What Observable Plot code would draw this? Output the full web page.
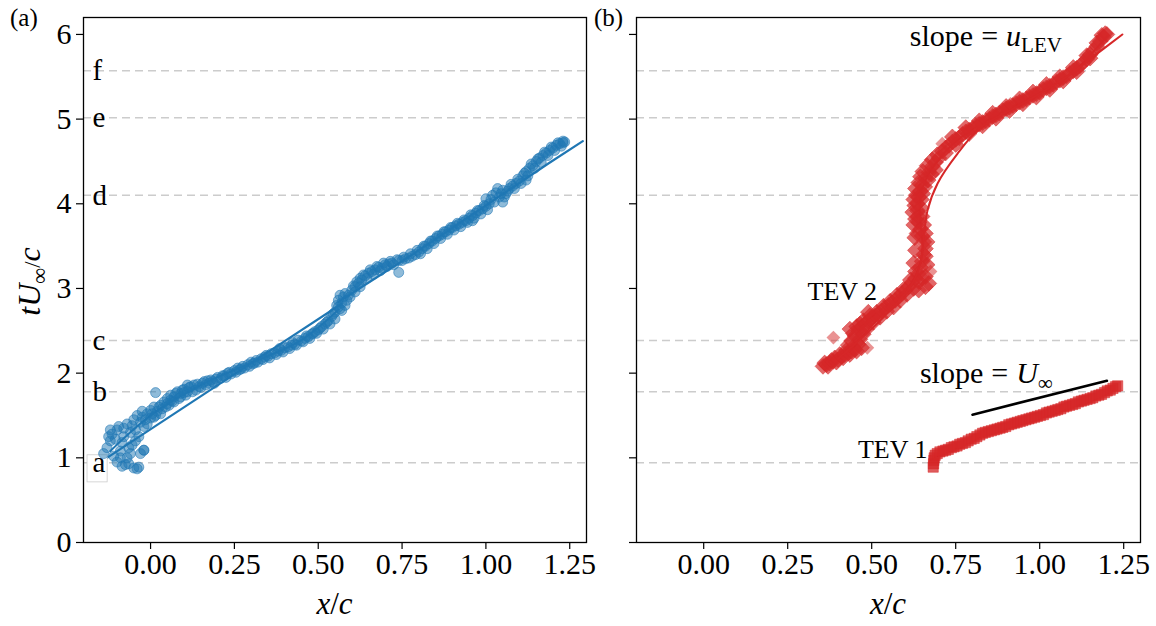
<!DOCTYPE html>
<html>
<head>
<meta charset="utf-8">
<script src="https://cdn.jsdelivr.net/npm/d3@7"></script>
<script src="https://cdn.jsdelivr.net/npm/@observablehq/plot@0.6"></script>
<style>
  html, body { margin: 0; padding: 0; background: #fff; }
  #wrap { position: relative; width: 1156px; height: 626px; font-family: "Liberation Serif", serif; }
  #wrap > .panel { position: absolute; top: 0; }
  .plab { position: absolute; top: 4px; font-size: 25px; font-family: "Liberation Serif", serif; }
</style>
</head>
<body>
<div id="wrap">
  <div class="plab" style="left:10px">(a)</div>
  <div class="plab" style="left:594px">(b)</div>
</div>
<script>
// ---------------- data ----------------
const xTicks = [0, 0.25, 0.5, 0.75, 1.0, 1.25];
const yTicks = [0, 1, 2, 3, 4, 5, 6];
const stageLabels = ["a", "b", "c", "d", "e", "f"];
const stageY = [0.943, 1.78, 2.386, 4.10, 5.015, 5.57];

// panel (a): LEV trajectory points (x/c, tU/c)
const levPts = [
  [-0.14,1.05],[-0.13,1.12],[-0.12,1.20],[-0.115,1.28],[-0.10,1.33],[-0.11,1.02],[-0.10,0.95],[-0.09,1.08],
  [-0.085,1.18],[-0.08,1.25],[-0.075,0.92],[-0.07,1.00],[-0.065,1.12],[-0.06,1.30],[-0.055,1.38],[-0.05,0.88],
  [-0.045,1.20],[-0.04,0.87],[-0.035,0.89],[-0.03,1.42],[-0.025,1.48],[-0.02,1.09],[-0.02,1.09],[-0.02,1.37],
  [-0.01,1.52],[0.0,1.47],[0.0,1.56],[0.01,1.60],[0.015,1.50],[0.015,1.77],[0.02,1.55],[0.03,1.62],[0.035,1.58],
  [0.04,1.66],[0.05,1.70],[0.055,1.62],[0.06,1.74],[0.065,1.67],[0.07,1.72],[0.08,1.78],[0.085,1.70],[0.09,1.76],
  [0.10,1.81],[0.105,1.74],[0.11,1.86],[0.12,1.84],[0.125,1.78],[0.14,1.87],[0.15,1.83],[0.16,1.90],[0.18,1.92],
  [0.19,1.88],[0.20,1.95],[0.22,1.97],[0.23,2.00],[0.25,2.03],[0.26,2.06],[0.27,2.05],[0.29,2.10],[0.30,2.13],
  [0.31,2.12],[0.33,2.17],[0.34,2.19],[0.35,2.20],[0.37,2.24],[0.38,2.26],[0.39,2.27],[0.41,2.31],[0.42,2.33],
  [0.43,2.34],[0.45,2.38],[0.46,2.41],[0.47,2.43],[0.48,2.46],[0.49,2.49],[0.50,2.51],[0.51,2.55],[0.52,2.58],
  [0.53,2.62],[0.54,2.67],[0.55,2.72],[0.555,2.80],[0.56,2.86],[0.565,2.76],[0.57,2.83],[0.575,2.90],[0.58,2.80],
  [0.59,2.92],[0.60,2.98],[0.61,3.02],[0.62,3.06],[0.625,3.12],[0.63,3.10],[0.64,3.15],[0.65,3.18],[0.66,3.20],
  [0.67,3.22],[0.68,3.25],[0.69,3.24],[0.70,3.28],[0.71,3.29],[0.72,3.30],[0.74,3.19],[0.74,3.33],[0.76,3.35],
  [0.78,3.38],[0.80,3.43],[0.81,3.47],[0.82,3.50],[0.83,3.53],[0.84,3.56],[0.85,3.59],[0.86,3.62],[0.87,3.64],
  [0.88,3.67],[0.89,3.69],[0.90,3.72],[0.91,3.74],[0.92,3.76],[0.93,3.78],[0.94,3.80],[0.95,3.83],[0.96,3.80],
  [0.96,3.86],[0.97,3.89],[0.98,3.92],[0.99,3.94],[1.0,3.97],[1.01,4.00],[1.0,4.06],[1.02,4.10],[1.03,4.13],
  [1.04,4.08],[1.05,4.02],[1.05,4.16],[1.06,4.12],[1.07,4.18],[1.08,4.21],[1.09,4.24],[1.10,4.27],[1.11,4.33],
  [1.12,4.28],[1.12,4.38],[1.13,4.42],[1.14,4.45],[1.15,4.50],[1.16,4.54],[1.17,4.57],[1.18,4.60],[1.19,4.63],
  [1.20,4.66],[1.21,4.69],[1.22,4.71],[1.23,4.72],[1.235,4.73]
];
const levPtsExtra = [
  [-0.125,1.25],[-0.12,1.33],[-0.105,1.22],[-0.095,1.37],[-0.09,1.00],[-0.085,0.90],[-0.08,1.35],[-0.07,1.40],
  [-0.065,0.93],[-0.06,1.05],[-0.055,1.15],[-0.05,1.45],[-0.045,1.33],[-0.04,1.50],[-0.035,1.25],[-0.03,1.05],
  [-0.025,1.55],[-0.015,1.45],[-0.01,1.40],[0.005,1.52],[0.01,1.48],[0.025,1.60],[0.03,1.52],[0.045,1.60],
  [0.05,1.64],[0.06,1.68],[0.07,1.66],[0.075,1.76],[0.09,1.72],[0.095,1.80],[0.10,1.77],[0.11,1.78],[0.115,1.83],
  [0.13,1.86],[0.135,1.80],[0.145,1.84],[0.155,1.88],[0.165,1.86],[0.17,1.91],[0.175,1.88],[0.185,1.90],
  [0.195,1.93],[0.21,1.94],[0.215,1.97],[0.225,1.95],[0.235,2.01],[0.24,1.99],[0.255,2.01],[0.265,2.04],
  [0.275,2.08],[0.28,2.06],[0.295,2.08],[0.305,2.11],[0.315,2.15],[0.32,2.13],[0.335,2.16],[0.345,2.21],
  [0.355,2.18],[0.36,2.23],[0.375,2.22],[0.385,2.29],[0.395,2.25],[0.40,2.30],[0.415,2.29],[0.425,2.36],
  [0.435,2.33],[0.44,2.39],[0.455,2.37],[0.465,2.44],[0.475,2.41],[0.485,2.47],[0.495,2.47],[0.505,2.53],
  [0.515,2.52],[0.525,2.60],[0.535,2.58],[0.545,2.70],[0.55,2.64],[0.56,2.78],[0.565,2.92],[0.57,2.74],
  [0.58,2.94],[0.585,2.86],[0.595,2.90],[0.605,3.03],[0.61,2.96],[0.615,3.08],[0.625,3.02],[0.635,3.16],
  [0.645,3.12],[0.655,3.22],[0.665,3.17],[0.675,3.26],[0.685,3.21],[0.695,3.30],[0.705,3.26],[0.715,3.32],
  [0.725,3.28],[0.735,3.34],[0.75,3.33],[0.755,3.37],[0.77,3.36],[0.775,3.41],[0.79,3.40],[0.795,3.45],
  [0.805,3.41],[0.815,3.50],[0.825,3.47],[0.835,3.56],[0.845,3.53],[0.855,3.62],[0.865,3.59],[0.875,3.67],
  [0.885,3.64],[0.895,3.72],[0.905,3.69],[0.915,3.77],[0.925,3.73],[0.935,3.81],[0.945,3.78],[0.955,3.87],
  [0.965,3.83],[0.975,3.92],[0.985,3.88],[0.995,3.98],[1.005,3.93],[1.015,4.05],[1.025,4.02],[1.035,4.18],
  [1.045,4.12],[1.055,4.08],[1.065,4.15],[1.075,4.23],[1.085,4.18],[1.095,4.29],[1.105,4.24],[1.115,4.36],
  [1.125,4.33],[1.135,4.47],[1.145,4.42],[1.155,4.53],[1.165,4.49],[1.175,4.61],[1.185,4.57],[1.195,4.67],
  [1.205,4.63],[1.215,4.72],[1.225,4.68],[1.23,4.74]
];
const levFitA = [[-0.13,1.00],[0.57,2.82]];
const levFitB = [[0.56,2.84],[0.80,3.45],[1.00,3.98],[1.184,4.47],[1.289,4.74]];
const levFitC = [[-0.12,1.08],[0.0,1.50],[0.15,1.86],[0.30,2.12],[0.45,2.39],[0.56,2.75]];

// panel (b): TEV 1 points
const tev1Pts = [
  [0.683,0.89],[0.684,0.93],[0.685,0.97],[0.686,1.00],[0.689,1.03],[0.695,1.05],[0.703,1.07],[0.712,1.08],
  [0.72,1.09],[0.728,1.10],[0.737,1.12],[0.745,1.13],[0.754,1.14],[0.762,1.16],[0.77,1.17],[0.779,1.18],
  [0.787,1.20],[0.796,1.22],[0.805,1.23],[0.813,1.25],[0.822,1.27],[0.83,1.29],[0.838,1.30],[0.847,1.31],
  [0.856,1.32],[0.865,1.33],[0.873,1.34],[0.882,1.35],[0.89,1.36],[0.899,1.37],[0.908,1.39],[0.916,1.40],
  [0.925,1.41],[0.933,1.42],[0.942,1.43],[0.95,1.44],[0.959,1.45],[0.968,1.46],[0.976,1.47],[0.985,1.48],
  [0.993,1.49],[1.002,1.50],[1.011,1.51],[1.02,1.53],[1.028,1.54],[1.037,1.55],[1.046,1.56],[1.054,1.57],
  [1.063,1.58],[1.072,1.60],[1.08,1.61],[1.089,1.62],[1.098,1.63],[1.106,1.64],[1.115,1.66],[1.124,1.67],
  [1.132,1.68],[1.141,1.69],[1.15,1.70],[1.158,1.71],[1.167,1.73],[1.176,1.74],[1.184,1.75],[1.193,1.77],
  [1.201,1.79],[1.21,1.80],[1.218,1.82],[1.226,1.84],[1.232,1.85]
];
// panel (b): TEV 2 / LEV points
const tev2Pts = [
  [0.355,2.08],[0.36,2.12],[0.365,2.10],[0.37,2.08],[0.375,2.12],[0.38,2.15],[0.385,2.14],[0.39,2.18],
  [0.395,2.13],[0.40,2.16],[0.405,2.22],[0.41,2.20],[0.415,2.18],[0.42,2.22],[0.425,2.27],[0.43,2.24],
  [0.435,2.22],[0.44,2.26],[0.445,2.31],[0.45,2.28],[0.455,2.26],[0.46,2.34],[0.465,2.40],[0.47,2.30],
  [0.43,2.33],[0.44,2.38],[0.45,2.44],[0.445,2.47],[0.435,2.52],[0.455,2.55],[0.46,2.50],[0.465,2.58],
  [0.47,2.55],[0.475,2.46],[0.475,2.62],[0.48,2.58],[0.485,2.52],[0.49,2.62],[0.495,2.68],[0.50,2.65],
  [0.505,2.60],[0.51,2.68],[0.515,2.72],[0.52,2.70],[0.525,2.66],[0.49,2.72],[0.53,2.74],[0.535,2.79],
  [0.54,2.77],[0.545,2.73],[0.55,2.80],[0.555,2.85],[0.56,2.83],[0.565,2.78],[0.57,2.86],[0.575,2.92],
  [0.58,2.90],[0.585,2.86],[0.59,2.94],[0.595,2.99],[0.60,2.98],[0.605,2.93],[0.61,3.02],[0.615,3.10],
  [0.62,3.07],[0.625,3.00],[0.63,3.20],[0.63,3.12],[0.64,3.08],[0.64,3.18],[0.64,2.98],[0.65,3.12],
  [0.66,3.02],[0.66,3.14],[0.67,3.06],[0.645,3.25],[0.65,3.32],[0.665,3.28],[0.655,3.40],[0.66,3.38],
  [0.66,3.47],[0.665,3.55],[0.655,3.55],[0.65,3.62],[0.66,3.65],[0.645,3.70],[0.655,3.75],[0.64,3.78],
  [0.65,3.85],[0.638,3.85],[0.636,3.92],[0.648,3.95],[0.636,4.00],[0.648,4.05],[0.64,4.08],[0.652,4.12],
  [0.645,4.15],[0.658,4.20],[0.65,4.22],[0.668,4.28],[0.66,4.30],[0.678,4.35],[0.67,4.37],[0.69,4.40],
  [0.68,4.44],[0.69,4.49],[0.70,4.54],[0.625,3.30],[0.63,3.45],[0.628,3.60],[0.635,3.65],[0.625,3.75],
  [0.63,3.82],[0.622,3.90],[0.628,3.98],[0.625,4.05],[0.632,4.10],[0.63,4.18],[0.64,4.25],[0.645,4.32],
  [0.652,4.38],[0.665,4.45],[0.68,4.52],[0.695,4.58],[0.71,4.62],[0.72,4.66],[0.73,4.69],[0.74,4.73],
  [0.75,4.76],[0.76,4.78],[0.77,4.82],[0.78,4.85],[0.79,4.87],[0.80,4.89],[0.81,4.92],[0.82,4.94],
  [0.83,4.96],[0.84,4.98],[0.85,5.00],[0.86,5.03],[0.87,5.05],[0.88,5.07],[0.89,5.10],[0.90,5.12],
  [0.91,5.14],[0.92,5.16],[0.93,5.18],[0.94,5.20],[0.95,5.22],[0.96,5.24],[0.97,5.26],[0.98,5.28],
  [0.99,5.30],[1.0,5.32],[1.01,5.35],[1.02,5.37],[1.03,5.39],[1.04,5.41],[1.05,5.44],[1.06,5.46],
  [1.07,5.49],[1.08,5.51],[1.09,5.54],[1.10,5.57],[1.11,5.60],[1.12,5.63],[1.13,5.67],[1.14,5.71],
  [1.15,5.76],[1.16,5.81],[1.17,5.86],[1.18,5.92],[1.19,5.97],[1.195,6.01],[1.20,6.0],[1.185,5.99],
  [0.72,4.60],[0.75,4.70],[0.79,4.83],[0.83,4.92],[0.87,5.01],[0.91,5.10],[0.95,5.18],[0.99,5.26],
  [1.03,5.35],[1.07,5.45],[1.11,5.56],[1.15,5.72],[0.74,4.79],[0.78,4.90],[0.82,4.98],[0.86,5.07],
  [0.90,5.15],[0.94,5.24],[0.98,5.32],[1.02,5.41],[1.06,5.50],[1.10,5.61],[1.14,5.75],[1.17,5.90]
];
const tev2Outliers = [[0.386,2.42],[0.487,2.30],[0.675,3.20],[0.71,4.71],[0.815,4.92],[0.913,5.18]];
const tevFitA = [[0.40,2.17],[0.46,2.38],[0.52,2.60],[0.58,2.85],[0.62,3.05],[0.645,3.3],[0.655,3.6],
  [0.666,3.92],[0.696,4.24],[0.755,4.59],[0.824,4.90],[0.92,5.12],[1.0,5.30],[1.08,5.50],[1.16,5.74],[1.246,6.0]];
const tevFitB = [[0.36,2.09],[0.45,2.35],[0.55,2.78],[0.62,3.08],[0.65,3.4],[0.645,3.8],[0.645,4.1],
  [0.67,4.35],[0.73,4.66],[0.80,4.88],[0.90,5.11],[1.0,5.31],[1.1,5.56],[1.2,5.98]];
const slopeLine = [[0.8,1.51],[1.2,1.91]];
const aBox = {x1: -0.188, x2: -0.128, y1: 0.71, y2: 1.03};

// ---------------- drawing ----------------
const SERIF = "Liberation Serif, serif";
const BLUE = "#1f77b4", RED = "#d62728";
const X = d => d[0], Y = d => d[1];
const TICKFONT = 30;

function common(extra, showYLabels) {
  return [
    Plot.ruleY(stageY, {stroke: "#cccccc", strokeWidth: 1.5, strokeDasharray: "8,5"}),
    ...extra,
    Plot.frame({stroke: "black", strokeWidth: 1.3}),
    Plot.axisX({ticks: xTicks, tickFormat: d => d.toFixed(2), tickSize: 7, tickPadding: 3,
      fontSize: TICKFONT, fontFamily: SERIF, label: null, strokeWidth: 1.2}),
    Plot.axisY({ticks: yTicks, tickFormat: showYLabels ? (d => String(d)) : (() => ""), tickSize: 7,
      tickPadding: 5, fontSize: TICKFONT, fontFamily: SERIF, label: null, strokeWidth: 1.2})
  ];
}

const plotA = Plot.plot({
  width: 600, height: 626, marginLeft: 83, marginRight: 14, marginTop: 17, marginBottom: 84,
  x: {domain: [-0.2, 1.3], axis: null}, y: {domain: [0, 6.2], axis: null},
  style: {fontFamily: SERIF, fontSize: TICKFONT + "px", background: "transparent", color: "black"},
  marks: common([
    Plot.line(levFitC, {x: X, y: Y, stroke: BLUE, strokeWidth: 2, curve: "catmull-rom"}),
    Plot.line(levFitA, {x: X, y: Y, stroke: BLUE, strokeWidth: 2.2}),
    Plot.line(levFitB, {x: X, y: Y, stroke: BLUE, strokeWidth: 2.2}),
    Plot.rect([aBox], {x1: "x1", x2: "x2", y1: "y1", y2: "y2", fill: "white", stroke: "#cccccc", strokeWidth: 0.8}),
    Plot.dot(levPts, {x: X, y: Y, r: 5, fill: BLUE, fillOpacity: 0.5, stroke: BLUE, strokeOpacity: 0.55, strokeWidth: 1}),
    Plot.dot(levPtsExtra, {x: X, y: Y, r: 5, fill: BLUE, fillOpacity: 0.5, stroke: BLUE, strokeOpacity: 0.55, strokeWidth: 1}),
    Plot.text(stageLabels, {x: -0.2, y: (d, i) => stageY[i], text: d => d, dx: 9, textAnchor: "start",
      fontSize: 29, fontFamily: SERIF, fill: "black"})
  ], true)
});

const plotB = Plot.plot({
  width: 566, height: 626, marginLeft: 46, marginRight: 16, marginTop: 17, marginBottom: 84,
  x: {domain: [-0.2, 1.3], axis: null}, y: {domain: [0, 6.2], axis: null},
  style: {fontFamily: SERIF, fontSize: TICKFONT + "px", background: "transparent", color: "black"},
  marks: common([
    Plot.line(tevFitB, {x: X, y: Y, stroke: RED, strokeWidth: 1.8, curve: "catmull-rom"}),
    Plot.dot(tev2Pts, {x: X, y: Y, symbol: "square", r: 6.3, rotate: 45, fill: RED, fillOpacity: 0.7, stroke: RED, strokeOpacity: 0.6, strokeWidth: 0.8}),
    Plot.dot(tev2Outliers, {x: X, y: Y, symbol: "square", r: 5.5, rotate: 45, fill: RED, fillOpacity: 0.5}),
    Plot.line(tevFitA, {x: X, y: Y, stroke: RED, strokeWidth: 2, curve: "catmull-rom"}),
    Plot.dot(tev1Pts, {x: X, y: Y, symbol: "square", r: 5.8, fill: RED, fillOpacity: 0.75, stroke: RED, strokeOpacity: 0.6, strokeWidth: 0.8}),
    Plot.line(slopeLine, {x: X, y: Y, stroke: "black", strokeWidth: 2.6}),
    Plot.text(["TEV 2"], {x: 0.309, y: 2.86, textAnchor: "start", lineAnchor: "bottom", fontSize: 26, fontFamily: SERIF, fill: "black"}),
    Plot.text(["TEV 1"], {x: 0.666, y: 1.0, textAnchor: "end", lineAnchor: "bottom", fontSize: 26, fontFamily: SERIF, fill: "black"})
  ], false)
});

const wrap = document.getElementById("wrap");
plotA.classList.add("panel"); plotA.style.left = "0px";
plotB.classList.add("panel"); plotB.style.left = "590px";
wrap.appendChild(plotA); wrap.appendChild(plotB);

// rich-text labels (sub/superscripts) appended through d3, positioned via the plot scales
function richText(svg, x, y, parts, opts = {}) {
  const size = opts.size || 27;
  const t = d3.select(svg).append("text")
    .attr("x", x).attr("y", y)
    .attr("font-family", SERIF).attr("font-size", size)
    .attr("text-anchor", opts.anchor || "start").attr("fill", "black");
  if (opts.rotate) t.attr("transform", `rotate(${opts.rotate},${x},${y})`);
  for (const p of parts) {
    const s = t.append("tspan").text(p.t);
    if (p.i) s.attr("font-style", "italic");
    if (p.sub) s.attr("font-size", size * 0.7).attr("dy", p.sub);
    if (p.dx) s.attr("dx", p.dx);
  }
  return t;
}
const sxA = plotA.scale("x"), syA = plotA.scale("y");
const sxB = plotB.scale("x"), syB = plotB.scale("y");

// axis titles
richText(plotA, (sxA.apply(-0.2) + sxA.apply(1.3)) / 2, 614,
  [{t: "x", i: true}, {t: "/"}, {t: "c", i: true}], {anchor: "middle", size: 31});
richText(plotB, (sxB.apply(-0.2) + sxB.apply(1.3)) / 2, 614,
  [{t: "x", i: true}, {t: "/"}, {t: "c", i: true}], {anchor: "middle", size: 31});
richText(plotA, 40, (syA.apply(0) + syA.apply(6.2)) / 2 + 2,
  [{t: "tU", i: true}, {t: "∞", sub: 7}, {t: "/", sub: -7}, {t: "c", i: true}],
  {anchor: "middle", size: 32, rotate: -90});

// annotations in panel (b)
richText(plotB, sxB.apply(0.645), syB.apply(1.88),
  [{t: "slope"}, {t: "=", dx: 8}, {t: "U", i: true, dx: 8}, {t: "∞", sub: 7}], {size: 30});
richText(plotB, sxB.apply(0.615), syB.apply(5.86),
  [{t: "slope"}, {t: "=", dx: 8}, {t: "u", i: true, dx: 8}, {t: "LEV", sub: 6}], {size: 30});
</script>
</body>
</html>
